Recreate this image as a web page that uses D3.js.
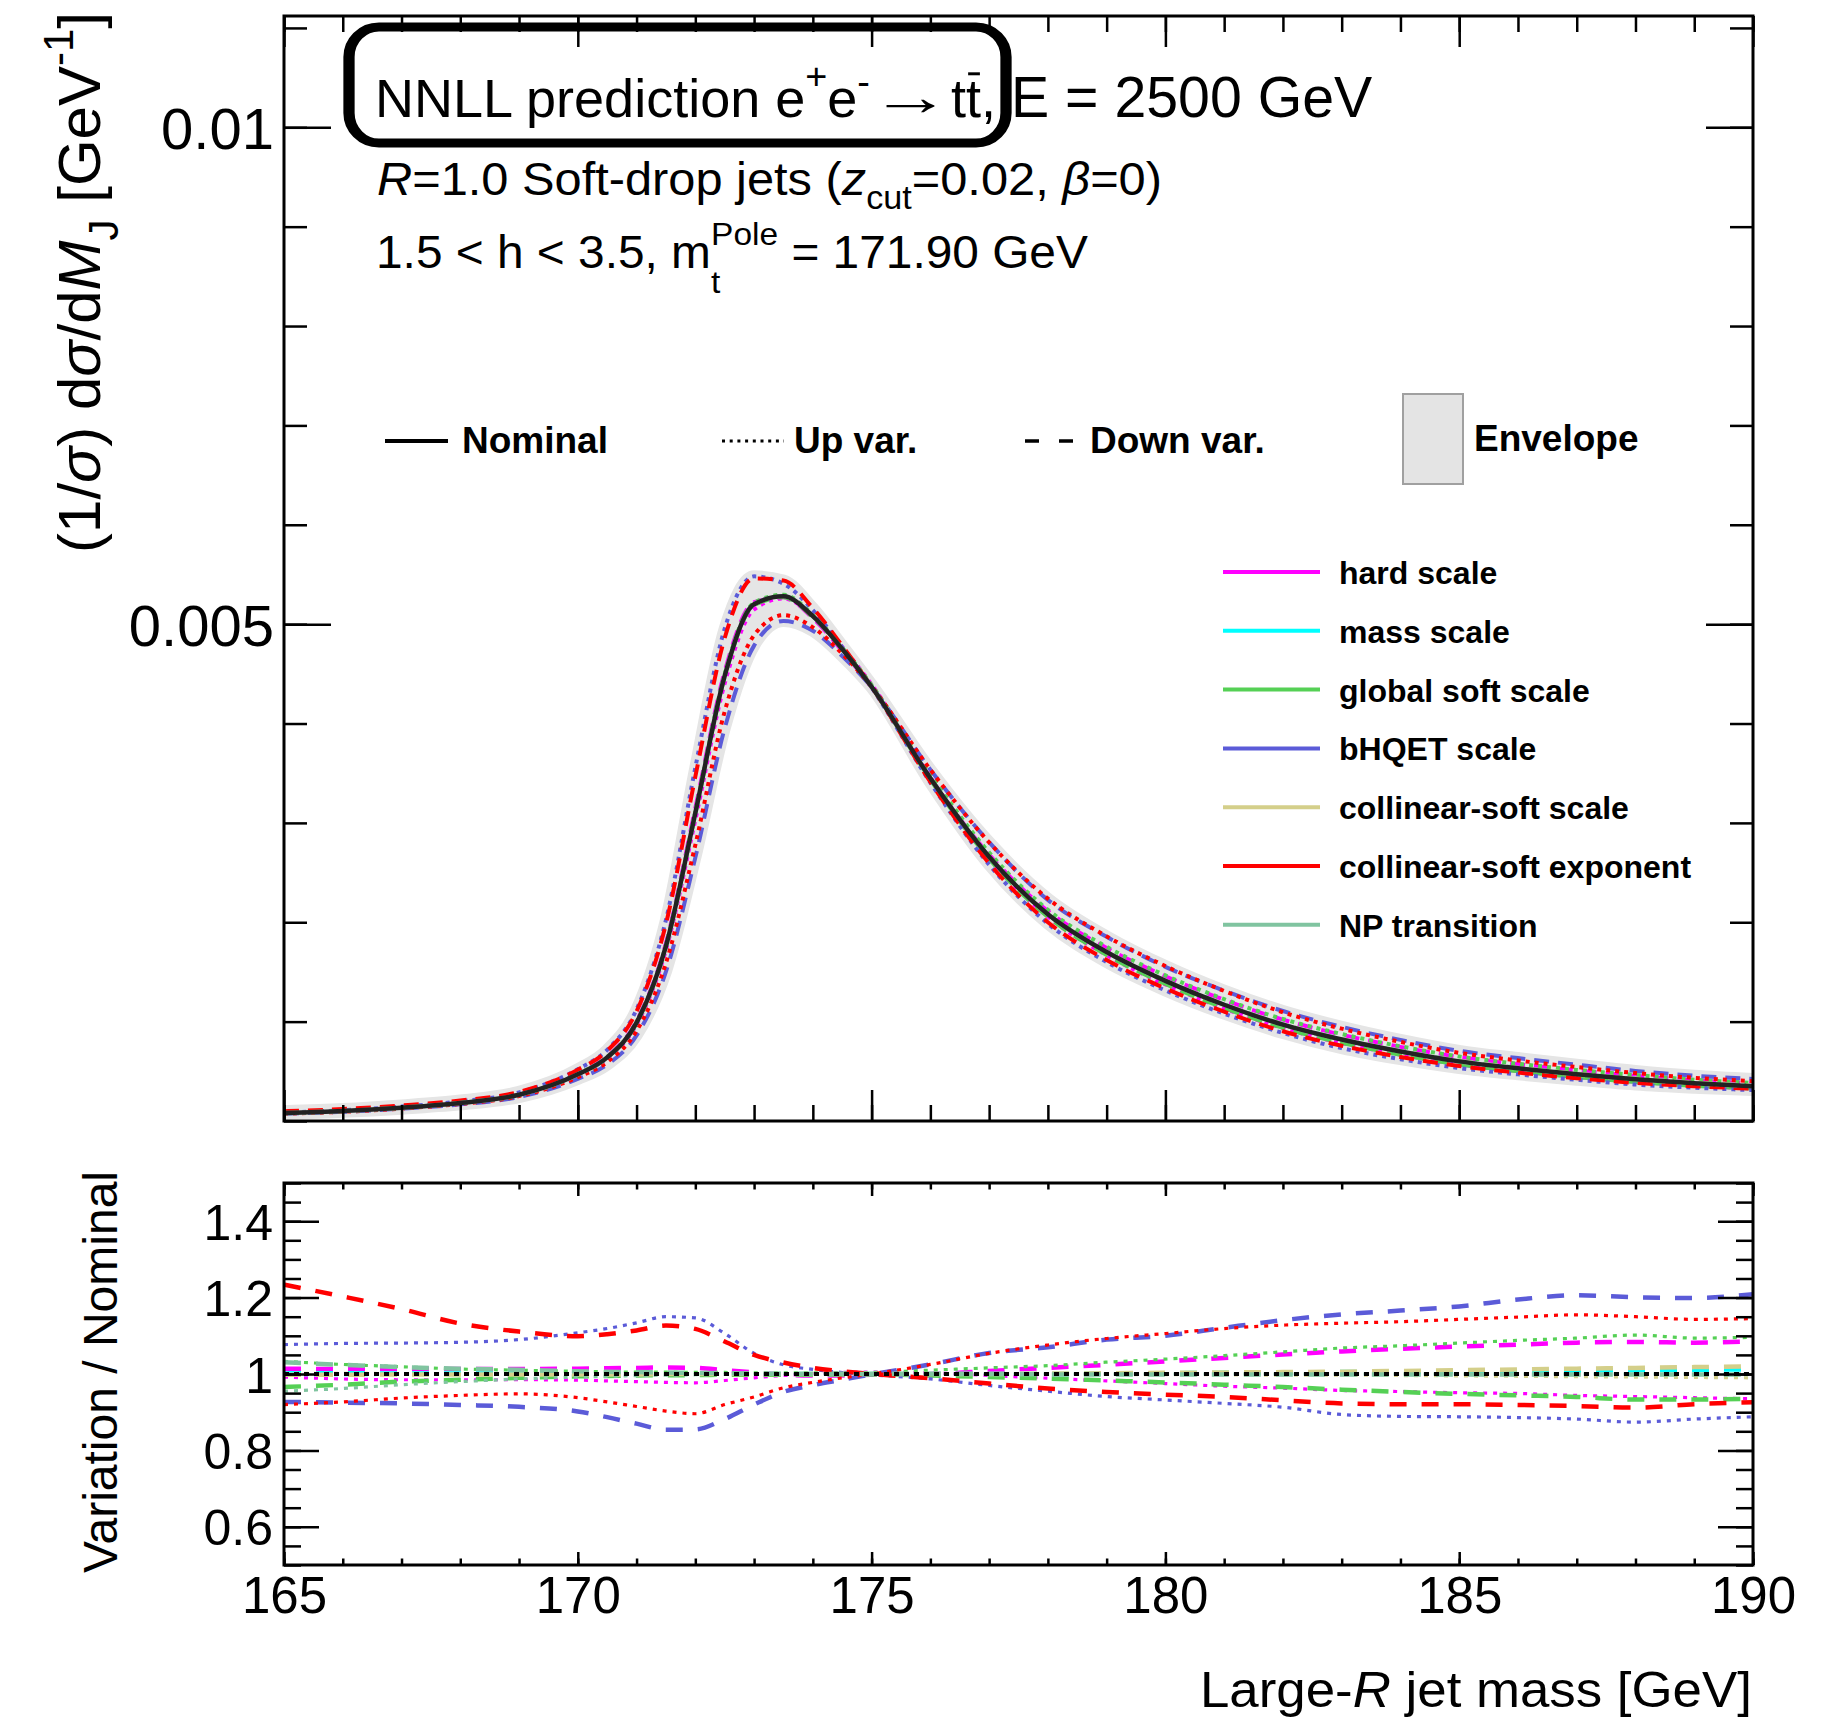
<!DOCTYPE html>
<html>
<head>
<meta charset="utf-8">
<title>NNLL top-jet mass: scale variations</title>
<script src="https://cdn.jsdelivr.net/npm/d3@7"></script>
<style>
  html, body { margin: 0; padding: 0; background: #ffffff; }
  svg { display: block; }
  text { font-family: "Liberation Sans", Arial, Helvetica, sans-serif; white-space: pre; }
</style>
</head>
<body>
<svg id="chart" width="1845" height="1724"></svg>
<script>
// ---------------------------------------------------------------------------
// Data
// ---------------------------------------------------------------------------
// Large-R jet mass grid (GeV)
const massGrid = [165, 166, 167, 168, 169, 170, 170.5, 171, 171.5, 172, 172.5, 173, 173.5, 174, 174.5,
                  175, 176, 177, 178, 179, 180, 181, 182, 183, 184, 185, 186, 187, 188, 189, 190];

// Nominal NNLL prediction, (1/sigma) dsigma/dM_J in GeV^-1
const nominal = [0.00008, 0.0001, 0.000134, 0.000182, 0.000264, 0.00047, 0.00064, 0.00099, 0.00176, 0.0031,
                 0.00448, 0.0052, 0.00528, 0.00508, 0.00475, 0.00437, 0.00345, 0.00266, 0.00208, 0.00170,
                 0.00141, 0.00117, 0.00097, 0.00082, 0.0007, 0.0006, 0.00053, 0.00047, 0.00042, 0.00038, 0.00035];

// Variation / nominal for each source (up = dotted, down = dashed)
const hardUp = [0.992, 0.987, 0.985, 0.985, 0.985, 0.984, 0.982, 0.980, 0.978, 0.977, 0.983, 0.990, 0.996, 1.001, 1.004,
                1.005, 1.003, 0.996, 0.989, 0.982, 0.975, 0.968, 0.963, 0.957, 0.954, 0.951, 0.949, 0.944, 0.941, 0.938, 0.935];
const hardDown = [1.014, 1.013, 1.013, 1.013, 1.013, 1.014, 1.015, 1.016, 1.017, 1.016, 1.010, 1.004, 0.998, 0.996, 0.996,
                  0.998, 1.000, 1.008, 1.016, 1.024, 1.033, 1.042, 1.051, 1.059, 1.066, 1.072, 1.077, 1.082, 1.084, 1.082, 1.086];

const massUp = [0.998, 0.998, 0.999, 0.999, 0.999, 0.999, 1.000, 1.000, 1.000, 1.000, 1.000, 1.000, 1.000, 1.000, 1.000,
                1.000, 1.000, 1.000, 1.000, 1.000, 0.999, 0.999, 0.999, 0.999, 0.999, 0.999, 0.998, 0.998, 0.998, 0.998, 0.998];
const massDown = [1.002, 1.002, 1.001, 1.001, 1.001, 1.001, 1.000, 1.000, 1.000, 1.000, 1.000, 1.000, 1.000, 1.000, 1.000,
                  1.000, 1.000, 1.000, 1.000, 1.001, 1.002, 1.003, 1.004, 1.005, 1.006, 1.007, 1.008, 1.009, 1.010, 1.011, 1.012];

const globalSoftUp = [1.033, 1.025, 1.019, 1.013, 1.010, 1.007, 1.006, 1.005, 1.005, 1.004, 1.004, 1.003, 1.003, 1.003, 1.003,
                      1.004, 1.010, 1.016, 1.022, 1.031, 1.039, 1.048, 1.058, 1.068, 1.074, 1.081, 1.088, 1.094, 1.102, 1.094, 1.096];
const globalSoftDown = [0.966, 0.972, 0.980, 0.985, 0.990, 0.994, 0.995, 0.996, 0.997, 0.997, 0.998, 0.998, 0.998, 0.998, 0.999,
                        0.999, 0.996, 0.992, 0.988, 0.983, 0.978, 0.972, 0.966, 0.959, 0.953, 0.948, 0.944, 0.940, 0.933, 0.933, 0.935];

const bhqetUp = [1.077, 1.080, 1.081, 1.083, 1.090, 1.108, 1.119, 1.134, 1.150, 1.147, 1.106, 1.054, 1.024, 1.012, 1.004,
                 0.998, 0.987, 0.970, 0.955, 0.941, 0.932, 0.923, 0.913, 0.894, 0.889, 0.888, 0.886, 0.882, 0.874, 0.882, 0.888];
const bhqetDown = [0.927, 0.925, 0.923, 0.919, 0.914, 0.902, 0.887, 0.870, 0.854, 0.855, 0.882, 0.920, 0.953, 0.971, 0.985,
                   0.999, 1.025, 1.055, 1.070, 1.090, 1.100, 1.121, 1.141, 1.156, 1.166, 1.177, 1.195, 1.206, 1.201, 1.199, 1.209];

const csScaleUp = [1.002, 1.002, 1.001, 1.001, 1.001, 1.001, 1.001, 1.001, 1.000, 1.000, 1.000, 1.000, 1.000, 1.000, 1.000,
                   1.000, 1.000, 1.000, 0.999, 0.999, 0.998, 0.998, 0.997, 0.997, 0.996, 0.995, 0.994, 0.993, 0.992, 0.991, 0.990];
const csScaleDown = [0.998, 0.998, 0.999, 0.999, 0.999, 0.999, 0.999, 0.999, 1.000, 1.000, 1.000, 1.000, 1.000, 1.000, 1.000,
                     1.000, 1.000, 1.000, 1.001, 1.002, 1.003, 1.004, 1.005, 1.006, 1.008, 1.010, 1.012, 1.014, 1.016, 1.018, 1.020];

const csExpUp = [0.920, 0.927, 0.937, 0.944, 0.948, 0.938, 0.927, 0.915, 0.903, 0.896, 0.920, 0.940, 0.964, 0.978, 0.990,
                 1.000, 1.025, 1.054, 1.076, 1.093, 1.106, 1.119, 1.128, 1.133, 1.137, 1.143, 1.149, 1.155, 1.150, 1.143, 1.145];
const csExpDown = [1.234, 1.203, 1.170, 1.132, 1.111, 1.099, 1.104, 1.114, 1.127, 1.118, 1.085, 1.050, 1.030, 1.016, 1.007,
                   1.000, 0.989, 0.975, 0.962, 0.953, 0.946, 0.940, 0.931, 0.923, 0.921, 0.921, 0.919, 0.916, 0.912, 0.921, 0.926];

const npUp = [0.955, 0.962, 0.972, 0.980, 0.987, 0.992, 0.994, 0.996, 0.997, 0.998, 0.999, 1.000, 1.000, 1.000, 1.000,
              1.000, 1.000, 1.000, 1.000, 1.000, 1.000, 1.000, 1.000, 1.000, 1.000, 1.000, 1.000, 1.000, 1.000, 1.000, 1.000];
const npDown = [1.031, 1.024, 1.018, 1.014, 1.011, 1.007, 1.006, 1.005, 1.004, 1.003, 1.002, 1.001, 1.000, 1.000, 1.000,
                1.000, 1.000, 1.000, 0.999, 0.999, 0.999, 0.999, 0.999, 0.999, 0.999, 0.999, 0.999, 0.999, 0.999, 0.999, 0.999];

const sourceNames = ["hard scale", "mass scale", "global soft scale", "bHQET scale",
                     "collinear-soft scale", "collinear-soft exponent", "NP transition"];
const sourceColors = ["#ff00ff", "#00ffff", "#55d055", "#5b5bd8", "#d4cf8a", "#ff0000", "#80c4a0"];

// Axis ticks and labels
const massTicks = [165, 170, 175, 180, 185, 190];
const massTickLabels = ["165", "170", "175", "180", "185", "190"];
const xsecTicks = [0.005, 0.01];
const xsecTickLabels = ["0.005", "0.01"];
const ratioTicks = [0.6, 0.8, 1, 1.2, 1.4];
const ratioTickLabels = ["0.6", "0.8", "1", "1.2", "1.4"];

// ---------------------------------------------------------------------------
// Layout
// ---------------------------------------------------------------------------
const X0 = 284, X1 = 1753;
const TOP = { y0: 16, y1: 1121 };
const BOT = { y0: 1183, y1: 1565 };
const FONT = '"Liberation Sans", Arial, Helvetica, sans-serif';

const svg = d3.select("#chart");

const x = d3.scaleLinear().domain([165, 190]).range([X0, X1]);
const yU = d3.scaleLinear().domain([0, 0.01112]).range([TOP.y1, TOP.y0]);
const yL = d3.scaleLinear().domain([0.5, 1.5]).range([BOT.y1, BOT.y0]);

const sources = [
  { up: hardUp, down: hardDown },
  { up: massUp, down: massDown },
  { up: globalSoftUp, down: globalSoftDown },
  { up: bhqetUp, down: bhqetDown },
  { up: csScaleUp, down: csScaleDown },
  { up: csExpUp, down: csExpDown },
  { up: npUp, down: npDown }
].map((s, i) => ({ ...s, name: sourceNames[i], color: sourceColors[i] }));

// clip regions for the two pads
const defs = svg.append("defs");
defs.append("clipPath").attr("id", "clipTop").append("rect")
  .attr("x", X0).attr("y", TOP.y0).attr("width", X1 - X0).attr("height", TOP.y1 - TOP.y0);
defs.append("clipPath").attr("id", "clipBot").append("rect")
  .attr("x", X0).attr("y", BOT.y0).attr("width", X1 - X0).attr("height", BOT.y1 - BOT.y0);

// ---------------------------------------------------------------------------
// Upper pad: distributions
// ---------------------------------------------------------------------------
const topG = svg.append("g").attr("clip-path", "url(#clipTop)");

const scaled = r => r.map((v, i) => v * nominal[i]);
const lineTop = d3.line().x((d, i) => x(massGrid[i])).y(d => yU(d)).curve(d3.curveMonotoneX);

// envelope over all variations
const allVars = [];
sources.forEach(s => { allVars.push(scaled(s.up)); allVars.push(scaled(s.down)); });
const envelope = massGrid.map((m, i) => ({
  m,
  lo: d3.min(allVars, v => v[i]),
  hi: d3.max(allVars, v => v[i])
}));
const envArea = d3.area().x(d => x(d.m)).y0(d => yU(d.lo)).y1(d => yU(d.hi)).curve(d3.curveMonotoneX);
topG.append("path").datum(envelope).attr("d", envArea)
  .attr("fill", "#e5e5e5").attr("stroke", "#e5e5e5").attr("stroke-width", 12).attr("stroke-linejoin", "round");

sources.forEach(s => {
  topG.append("path").attr("d", lineTop(scaled(s.down)))
    .attr("fill", "none").attr("stroke", s.color).attr("stroke-width", 4).attr("stroke-dasharray", "15,9");
  topG.append("path").attr("d", lineTop(scaled(s.up)))
    .attr("fill", "none").attr("stroke", s.color).attr("stroke-width", 4).attr("stroke-dasharray", "4,5");
});

topG.append("path").attr("d", lineTop(nominal))
  .attr("fill", "none").attr("stroke", "#222222").attr("stroke-width", 4.5);

// ---------------------------------------------------------------------------
// Lower pad: ratios
// ---------------------------------------------------------------------------
const botG = svg.append("g").attr("clip-path", "url(#clipBot)");
const lineBot = d3.line().x((d, i) => x(massGrid[i])).y(d => yL(d)).curve(d3.curveMonotoneX);

sources.forEach(s => {
  botG.append("path").attr("d", lineBot(s.down))
    .attr("fill", "none").attr("stroke", s.color).attr("stroke-width", 4.5).attr("stroke-dasharray", "17,15");
  botG.append("path").attr("d", lineBot(s.up))
    .attr("fill", "none").attr("stroke", s.color).attr("stroke-width", 3.2).attr("stroke-dasharray", "4,6");
});
botG.append("path").attr("d", lineBot(nominal.map(() => 1)))
  .attr("fill", "none").attr("stroke", "#000").attr("stroke-width", 4).attr("stroke-dasharray", "5,5");

// ---------------------------------------------------------------------------
// Frames and ticks
// ---------------------------------------------------------------------------
function ticks(g, axis, values, size, fmt) {
  const a = axis.tickValues(values).tickSizeInner(size).tickSizeOuter(0).tickFormat(fmt || "");
  g.call(a);
  g.select(".domain").remove();
  g.selectAll(".tick line").attr("stroke", "#000").attr("stroke-width", 2.5);
  g.selectAll("text").attr("font-family", FONT);
  return g;
}
const minorMass = d3.range(165, 191, 1);
const minorXsec = d3.range(0, 0.0111, 0.001);
const minorRatio = yL.ticks(20);

// upper pad ticks
ticks(svg.append("g").attr("transform", `translate(0,${TOP.y1})`), d3.axisBottom(x), minorMass, -16);
ticks(svg.append("g").attr("transform", `translate(0,${TOP.y1})`), d3.axisBottom(x), massTicks, -31);
ticks(svg.append("g").attr("transform", `translate(0,${TOP.y0})`), d3.axisTop(x), minorMass, -16);
ticks(svg.append("g").attr("transform", `translate(0,${TOP.y0})`), d3.axisTop(x), massTicks, -31);
ticks(svg.append("g").attr("transform", `translate(${X0},0)`), d3.axisLeft(yU), minorXsec, -23);
const yMajor = ticks(svg.append("g").attr("transform", `translate(${X0},0)`), d3.axisLeft(yU).tickPadding(10),
  xsecTicks, -47, (d, i) => xsecTickLabels[i]);
yMajor.selectAll("text").attr("font-size", 58).attr("dy", "0.36em");
ticks(svg.append("g").attr("transform", `translate(${X1},0)`), d3.axisRight(yU), minorXsec, -23);
ticks(svg.append("g").attr("transform", `translate(${X1},0)`), d3.axisRight(yU), xsecTicks, -47);

// lower pad ticks
ticks(svg.append("g").attr("transform", `translate(0,${BOT.y0})`), d3.axisTop(x), minorMass, -6.5);
ticks(svg.append("g").attr("transform", `translate(0,${BOT.y0})`), d3.axisTop(x), massTicks, -13);
ticks(svg.append("g").attr("transform", `translate(0,${BOT.y1})`), d3.axisBottom(x), minorMass, -6.5);
const xMajor = ticks(svg.append("g").attr("transform", `translate(0,${BOT.y1})`), d3.axisBottom(x),
  massTicks, -13, (d, i) => massTickLabels[i]);
xMajor.selectAll("text").attr("font-size", 51).attr("dy", null).attr("y", 48);
ticks(svg.append("g").attr("transform", `translate(${X0},0)`), d3.axisLeft(yL), minorRatio, -17);
const rMajor = ticks(svg.append("g").attr("transform", `translate(${X0},0)`), d3.axisLeft(yL).tickPadding(11),
  ratioTicks, -35, (d, i) => ratioTickLabels[i]);
rMajor.selectAll("text").attr("font-size", 50).attr("dy", "0.36em");
ticks(svg.append("g").attr("transform", `translate(${X1},0)`), d3.axisRight(yL), minorRatio, -17);
ticks(svg.append("g").attr("transform", `translate(${X1},0)`), d3.axisRight(yL), ratioTicks, -35);

// frames
[TOP, BOT].forEach(p => {
  svg.append("rect").attr("x", X0).attr("y", p.y0).attr("width", X1 - X0).attr("height", p.y1 - p.y0)
    .attr("fill", "none").attr("stroke", "#000").attr("stroke-width", 3);
});

// ---------------------------------------------------------------------------
// Rich text helper (super/subscripts, italics, overbars, stretched glyphs)
// ---------------------------------------------------------------------------
function richText(parent, segs, size, weight) {
  const g = parent.append("g");
  let cx = 0, held = null;
  for (const s of segs) {
    const startX = held ? held.x : cx;
    const fs = size * (s.scale || 1);
    const t = g.append("text")
      .attr("x", startX)
      .attr("y", (s.shift || 0) * size)
      .attr("font-size", fs)
      .attr("font-family", s.font || FONT)
      .attr("fill", "#000")
      .text(s.t);
    if (s.italic) t.attr("font-style", "italic");
    if (weight) t.attr("font-weight", weight);
    let w = t.node().getComputedTextLength();
    if (s.sx) {
      t.attr("transform", `translate(${startX},0) scale(${s.sx},1) translate(${-startX},0)`);
      w *= s.sx;
    }
    if (s.bar) {
      g.append("line")
        .attr("x1", startX + 0.04 * fs).attr("x2", startX + w - 0.02 * fs)
        .attr("y1", -0.80 * fs).attr("y2", -0.80 * fs)
        .attr("stroke", "#000").attr("stroke-width", 0.055 * fs);
    }
    if (s.hold) held = { x: cx, w };
    else if (held) { cx = held.x + Math.max(held.w, w); held = null; }
    else cx = startX + w;
  }
  return { g, width: cx };
}
function placeText(parent, segs, size, o) {
  const outer = parent.append("g")
    .attr("transform", `translate(${o.x},${o.y})` + (o.rotate ? ` rotate(${o.rotate})` : ""));
  const r = richText(outer, segs, size, o.weight);
  const sx = o.width ? o.width / r.width : 1;
  const tw = r.width * sx;
  const dx = o.anchor === "end" ? -tw : (o.anchor === "middle" ? -tw / 2 : 0);
  r.g.attr("transform", `translate(${dx},0) scale(${sx},1)`);
  return outer;
}

// axis titles
placeText(svg, [
  { t: "(1/" }, { t: "\u03c3", italic: true }, { t: ") d" }, { t: "\u03c3", italic: true }, { t: "/d" },
  { t: "M", italic: true }, { t: "J", scale: 0.7, shift: 0.3 }, { t: " [GeV" },
  { t: "-1", scale: 0.7, shift: -0.45 }, { t: "]" }
], 60, { x: 100, y: 12, anchor: "end", rotate: -90 });

placeText(svg, [{ t: "Variation / Nominal" }], 48, { x: 117, y: 1171, anchor: "end", rotate: -90 });

placeText(svg, [{ t: "Large-" }, { t: "R", italic: true }, { t: " jet mass [GeV]" }], 50,
  { x: 1752, y: 1707, anchor: "end", width: 552 });

// ---------------------------------------------------------------------------
// Labels inside the upper pad
// ---------------------------------------------------------------------------
placeText(svg, [
  { t: "NNLL prediction e" }, { t: "+", scale: 0.7, shift: -0.52 }, { t: "e" },
  { t: "-", scale: 0.7, shift: -0.42 },
  { t: "\u2192", font: '"DejaVu Sans", sans-serif', scale: 1.0, shift: -0.04, sx: 1.5 },
  { t: "t" }, { t: "t", bar: true }, { t: ", " }, { t: "E = 2500 GeV", scale: 1.06 }
], 54, { x: 375, y: 117 });

placeText(svg, [
  { t: "R", italic: true }, { t: "=1.0 Soft-drop jets (" }, { t: "z", italic: true },
  { t: "cut", scale: 0.7, shift: 0.3 }, { t: "=0.02, " }, { t: "\u03b2", italic: true }, { t: "=0)" }
], 47, { x: 377, y: 195, width: 785 });

placeText(svg, [
  { t: "1.5 < h < 3.5, m" }, { t: "Pole", scale: 0.7, shift: -0.5, hold: true },
  { t: "t", scale: 0.7, shift: 0.55 }, { t: " = 171.90 GeV" }
], 46, { x: 376, y: 268, width: 712 });

// rounded box around the first label line
svg.append("g").attr("transform", "translate(349,27) scale(1.25,1)")
  .append("rect").attr("x", 0).attr("y", 0).attr("width", (1006 - 349) / 1.25).attr("height", 116)
  .attr("rx", 24).attr("ry", 30)
  .attr("fill", "none").attr("stroke", "#000").attr("stroke-width", 9);

// ---------------------------------------------------------------------------
// Legends
// ---------------------------------------------------------------------------
const leg1 = svg.append("g");
const legY = 441;
leg1.append("line").attr("x1", 385).attr("x2", 448).attr("y1", legY).attr("y2", legY)
  .attr("stroke", "#000").attr("stroke-width", 4);
leg1.append("line").attr("x1", 722).attr("x2", 784).attr("y1", legY).attr("y2", legY)
  .attr("stroke", "#000").attr("stroke-width", 3).attr("stroke-dasharray", "3,4.7");
leg1.append("line").attr("x1", 1025).attr("x2", 1073).attr("y1", legY).attr("y2", legY)
  .attr("stroke", "#000").attr("stroke-width", 3.5).attr("stroke-dasharray", "14,20");
leg1.append("rect").attr("x", 1403).attr("y", 394).attr("width", 60).attr("height", 90)
  .attr("fill", "#e4e4e4").attr("stroke", "#a0a0a0").attr("stroke-width", 2);
placeText(leg1, [{ t: "Nominal" }], 37, { x: 462, y: 453, weight: "bold" });
placeText(leg1, [{ t: "Up var." }], 37, { x: 794, y: 453, weight: "bold" });
placeText(leg1, [{ t: "Down var." }], 37, { x: 1090, y: 453, weight: "bold" });
placeText(leg1, [{ t: "Envelope" }], 37, { x: 1474, y: 451, weight: "bold" });

const leg2 = svg.append("g");
sources.forEach((s, i) => {
  const y = 572 + i * 58.8;
  leg2.append("line").attr("x1", 1223).attr("x2", 1320).attr("y1", y).attr("y2", y)
    .attr("stroke", s.color).attr("stroke-width", 4);
  placeText(leg2, [{ t: s.name }], 32, { x: 1339, y: y + 12, weight: "bold" });
});
</script>
</body>
</html>
